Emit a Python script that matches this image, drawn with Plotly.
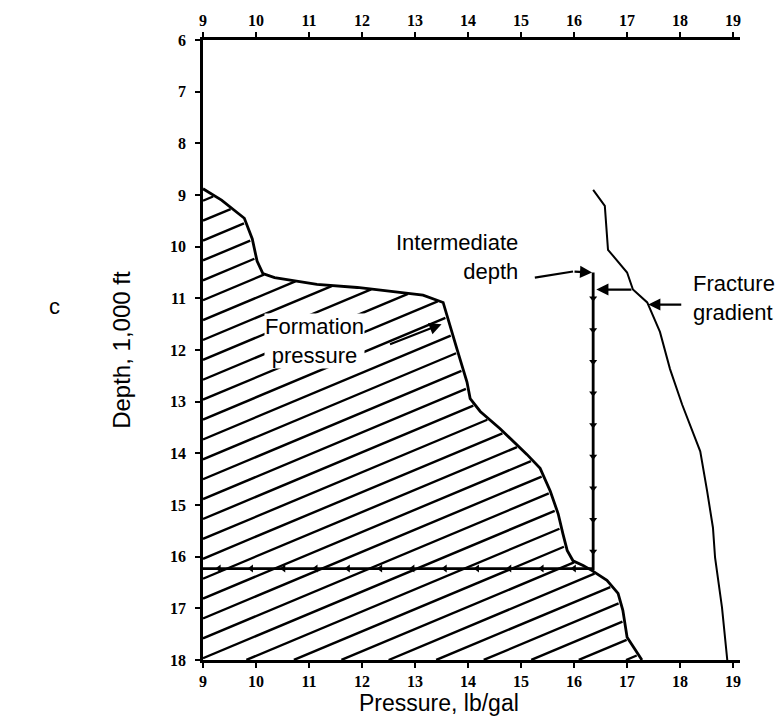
import numpy as np
import plotly.graph_objects as go

# ---- data ----
x_ticks = list(range(9, 20))          # pressure, lb/gal
y_ticks = list(range(6, 19))          # depth, 1,000 ft

formation_x = [9.0, 9.35, 9.78, 9.93, 10.02, 10.13, 10.35, 11.15, 11.91, 13.15, 13.53,
               13.62, 13.79, 13.98, 14.04, 14.23, 14.60, 15.11, 15.36, 15.55, 15.70,
               15.79, 15.87, 15.98, 16.17, 16.34, 16.62, 16.83, 16.92, 17.0, 17.28]
formation_depth = [8.88, 9.10, 9.45, 9.85, 10.28, 10.52, 10.60, 10.73, 10.79, 10.94, 11.08,
                   11.40, 11.98, 12.62, 12.94, 13.19, 13.52, 14.02, 14.29, 14.73, 15.17,
                   15.56, 15.88, 16.08, 16.17, 16.27, 16.46, 16.71, 17.04, 17.56, 18.0]

fracture_x = [16.36, 16.58, 16.64, 17.0, 17.11, 17.38, 17.62, 17.81, 18.04, 18.38,
              18.51, 18.62, 18.66, 18.79, 18.89]
fracture_depth = [8.90, 9.21, 10.06, 10.5, 10.83, 11.08, 11.65, 12.37, 13.06, 13.96,
                  14.73, 15.44, 16.02, 16.98, 18.0]

casing_x = [9.0, 16.36, 16.36]
casing_depth = [16.23, 16.23, 10.5]

intermediate_arrow_x = [15.26, 15.98]
intermediate_arrow_depth = [10.6, 10.48]

fig = go.Figure()

# ---- hatching of the formation-pressure area (derived from the boundary) ----
slope = 0.43      # depth units per pressure unit (rising to the right)
spacing = 0.385
xs = np.linspace(9.0, 17.4, 1500)
hx, hy = [], []
for c in np.arange(formation_depth[0] + spacing * 0.6, 18 + slope * 8.4, spacing):
    d = c - slope * (xs - 9.0)
    bx = np.interp(d, formation_depth, formation_x, left=-np.inf, right=np.inf)
    inside = (d >= formation_depth[0]) & (d <= 18.0) & (xs <= bx - 0.04)
    if inside.sum() > 2:
        sel = np.where(inside)[0]
        i0, i1 = sel[0], sel[-1]
        hx += [xs[i0], xs[i1], None]
        hy += [d[i0], d[i1], None]
fig.add_trace(go.Scatter(x=hx, y=hy, mode="lines", line=dict(color="black", width=2.4),
                         hoverinfo="skip", showlegend=False))

# formation pressure boundary
fig.add_trace(go.Scatter(x=formation_x, y=formation_depth, mode="lines",
                         line=dict(color="black", width=2.8), showlegend=False))

# fracture gradient
fig.add_trace(go.Scatter(x=fracture_x, y=fracture_depth, mode="lines",
                         line=dict(color="black", width=2.0), showlegend=False))

# casing lines
fig.add_trace(go.Scatter(x=casing_x, y=casing_depth, mode="lines",
                         line=dict(color="black", width=2.8), showlegend=False))
mark_d = np.linspace(11.0, 15.9, 9)
fig.add_trace(go.Scatter(x=[casing_x[1]] * len(mark_d), y=mark_d, mode="markers",
                         marker=dict(symbol="triangle-down", size=7, color="black"),
                         showlegend=False))
mark_x = np.linspace(9.3, 16.0, 12)
fig.add_trace(go.Scatter(x=mark_x, y=[casing_depth[0]] * len(mark_x), mode="markers",
                         marker=dict(symbol="triangle-left", size=7, color="black"),
                         showlegend=False))

# intermediate depth leader
fig.add_trace(go.Scatter(x=intermediate_arrow_x, y=intermediate_arrow_depth, mode="lines",
                         line=dict(color="black", width=2.2), showlegend=False))

# dummy trace for top axis
fig.add_trace(go.Scatter(x=[9], y=[6], xaxis="x2", mode="markers",
                         marker=dict(opacity=0), hoverinfo="skip", showlegend=False))

txt = dict(family="Liberation Sans, Arial, sans-serif", size=22, color="black")
arrow = dict(showarrow=True, arrowhead=2, arrowsize=1.1, arrowwidth=2.2,
             arrowcolor="black", axref="x", ayref="y", xref="x", yref="y")

annotations = [
    dict(text="Formation<br>pressure", x=11.1, y=11.83, xref="x", yref="y",
         showarrow=False, font=txt, bgcolor="white", borderpad=0),
    dict(text="", x=13.5, y=11.5, ax=12.5, ay=11.9, **arrow),
    dict(text="Intermediate<br>depth", x=14.98, y=10.2, xref="x", yref="y",
         xanchor="right", align="right", showarrow=False, font=txt),
    dict(text="", x=16.34, y=10.5, ax=intermediate_arrow_x[1], ay=intermediate_arrow_depth[1], **arrow),
    dict(text="Fracture<br>gradient", x=18.2, y=11.0, xref="x", yref="y",
         xanchor="left", align="left", showarrow=False, font=txt),
    dict(text="", x=17.4, y=11.12, ax=18.05, ay=11.12, **arrow),
    dict(text="", x=16.42, y=10.83, ax=17.11, ay=10.83, **arrow),
    dict(text="Pressure, lb/gal", x=0.44, y=-0.069, xref="paper", yref="paper",
         xanchor="center", yanchor="middle", showarrow=False,
         font=dict(family="Liberation Sans, Arial, sans-serif", size=23, color="black")),
    dict(text="Depth, 1,000 ft", x=-0.153, y=0.5, xref="paper", yref="paper",
         textangle=-90, xanchor="center", yanchor="middle", showarrow=False,
         font=dict(family="Liberation Sans, Arial, sans-serif", size=24, color="black")),
    dict(text="c", x=-0.29, y=0.57, xref="paper", yref="paper",
         showarrow=False, font=txt),
]

tickfont = dict(family="Liberation Serif, serif", size=16, color="black", weight="bold")
axis_common = dict(showline=True, linewidth=2.6, linecolor="black", ticks="outside",
                   ticklen=5, tickwidth=2, tickcolor="black", showgrid=False,
                   zeroline=False, tickfont=tickfont)

fig.update_layout(
    width=779, height=722,
    margin=dict(l=203, r=39, t=36, b=62),
    paper_bgcolor="white", plot_bgcolor="white",
    showlegend=False,
    xaxis=dict(range=[9, 19.13], tickvals=x_ticks, **axis_common),
    xaxis2=dict(range=[9, 19.13], tickvals=x_ticks, overlaying="x", side="top",
                **axis_common),
    yaxis=dict(range=[18, 6], tickvals=y_ticks, ticklabelstandoff=6, **axis_common),
    annotations=annotations,
)

fig.write_html("out.html")
